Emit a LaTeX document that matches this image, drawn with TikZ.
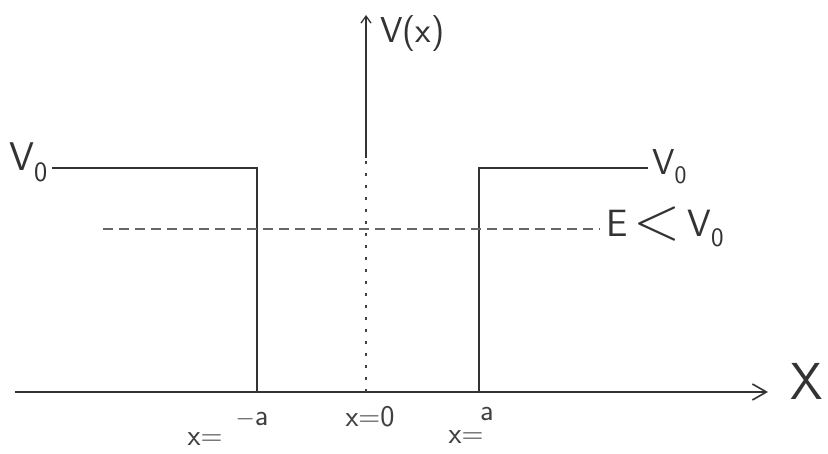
\documentclass[tikz,border=0pt]{standalone}
\usepackage{tikz}
\usetikzlibrary{arrows.meta,positioning,calc}
\tikzset{
  wall/.style={line width=1.6pt, black!80},
  lbl/.style={font=\fontsize{40}{44}\selectfont\sffamily, black!80, inner sep=0pt},
  tick/.style={font=\fontsize{30}{34}\selectfont\sffamily, black!75, inner sep=0pt}
}
\begin{document}
\begin{tikzpicture}[x=1pt,y=1pt]
    \useasboundingbox (0,0) rectangle (828,453);
    % Axes
    \coordinate (o) at (366,61);
    \draw[wall,-{Straight Barb[length=14pt,width=16pt,line width=1.6pt]}] (15,61) -- (768,61);
    \node[lbl,font=\fontsize{52}{56}\selectfont\sffamily,anchor=base west] (xlab) at (790,53) {X};
    \draw[wall,line width=1.3pt,-{Straight Barb[length=7pt,width=10pt,line width=1.3pt]}] (366,295) -- (366,438);
    \node[lbl,font=\fontsize{36}{40}\selectfont\sffamily,anchor=base west] (vlab) at (380,410) {V(x)};
    \draw[black!75,line width=1.4pt,dash pattern=on 3pt off 9pt] (o) -- (366,295);

    % Left wall
    \draw[wall] (52,285) -- (257,285) -- (257,61);
    \node[lbl,anchor=base east] (vleft) at (48,282) {V\textsubscript{0}};
    % Right wall
    \draw[wall] (479,61) -- (479,285) -- (648,285);
    \node[lbl,font=\fontsize{36}{40}\selectfont\sffamily,anchor=base west] (vright) at (652,278) {V\textsubscript{0}};

    % Energy level
    \draw[black!60,line width=1.4pt,dash pattern=on 10pt off 6pt] (103,224) -- (600,224);
    \node[lbl,font=\fontsize{38}{42}\selectfont\sffamily,anchor=base west] (elab) at (606,216)
      {E\,{\fontsize{62}{62}\selectfont\raisebox{-3pt}{\textless}}\,V\textsubscript{0}};

    % Positions
    \node[tick] (xm1) at (205,14) {x=};
    \node[tick] (xm2) at (252,34) {$-$a};
    \node[tick] (x0) at (370,36) {x=0};
    \node[tick] (xp2) at (487,39) {a};
    \node[tick] (xp1) at (466,16) {x=};
\end{tikzpicture}
\end{document}
